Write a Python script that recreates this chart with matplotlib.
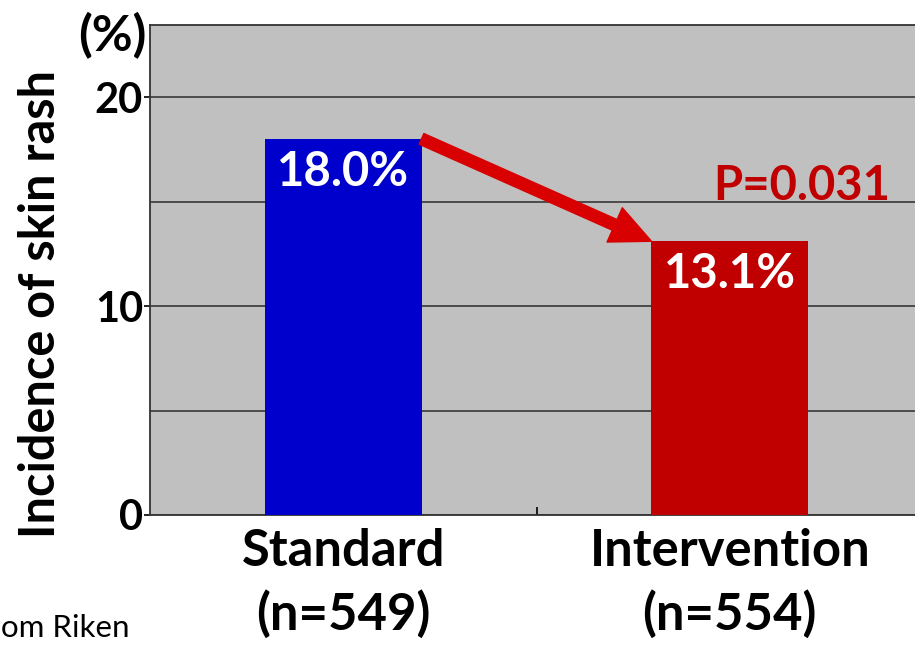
import matplotlib
matplotlib.use("Agg")
import matplotlib.pyplot as plt

# Data
groups = ["Standard", "Intervention"]
sample_sizes = [549, 554]
incidence = [18.0, 13.1]
bar_colors = ["#0000cc", "#c00000"]
p_value_text = "P=0.031"
y_major_ticks = [0, 10, 20]
y_minor_ticks = [5, 15]
source_text = "om Riken"

plt.rcParams["font.family"] = ["Lato", "DejaVu Sans"]

fig = plt.figure(figsize=(9.15, 6.45), dpi=100)
W, H = 915, 645
ax = fig.add_axes([150 / W, 130 / H, 773 / W, 490 / H])
ax.set_facecolor("#c0c0c0")

xpos = list(range(len(groups)))
bar_width = 0.405
bars = ax.bar(xpos, incidence, width=bar_width, color=bar_colors, zorder=3)

ax.set_xlim(-0.5, 1.5)
ax.set_ylim(0, 23.45)

# y axis: labelled ticks every 10, gridlines every 5
ax.set_yticks(y_major_ticks)
ax.set_yticks(y_minor_ticks, minor=True)
ax.grid(axis="y", which="both", color="#383838", lw=1.2, zorder=1)
ax.tick_params(axis="y", which="major", direction="out", length=4, width=1.2,
               pad=1, labelsize=30)
ax.tick_params(axis="y", which="minor", length=0)
for lbl in ax.get_yticklabels():
    lbl.set_fontweight("bold")

# x axis: category labels, one inward tick between the groups
ax.set_xticks(xpos, labels=[f"{g}\n(n={n})" for g, n in zip(groups, sample_sizes)])
ax.set_xticks([0.5], minor=True)
ax.tick_params(axis="x", which="major", length=0, pad=9, labelsize=36.5)
ax.tick_params(axis="x", which="minor", direction="in", length=6, width=1.2)
for lbl in ax.get_xticklabels():
    lbl.set_fontweight("bold")
    lbl.set_linespacing(1.4)

for side in ["left", "bottom", "top"]:
    ax.spines[side].set_color("#333333")
    ax.spines[side].set_linewidth(1.3)
ax.spines["right"].set_visible(False)

# value labels inside the bars
for bar, v in zip(bars, incidence):
    ax.annotate(f"{v:.1f}%", xy=(bar.get_x() + bar.get_width() / 2, v),
                xytext=(0, -8), textcoords="offset points",
                ha="center", va="top", color="white",
                fontsize=34, fontweight="bold", zorder=5)

# arrow from the top of one bar to the top of the other
start = (bars[0].get_x() + bars[0].get_width(), incidence[0])
end = (bars[1].get_x(), incidence[1])
ax.annotate("", xy=end, xytext=start,
            arrowprops=dict(arrowstyle="simple,head_length=1.45,head_width=1.35,tail_width=0.42",
                            mutation_scale=20, color="#d80000",
                            shrinkA=0, shrinkB=0),
            zorder=4)

ax.text(1.415, 15.07, p_value_text, ha="right", va="baseline",
        color="#c00000", fontsize=34, fontweight="bold")

fig.text(147 / W, 1 - 36 / H, "(%)", ha="right", va="center",
         fontsize=36, fontweight="bold")
fig.text(41 / W, 1 - 304 / H, "Incidence of skin rash", rotation=90,
         ha="center", va="center", fontsize=35, fontweight="bold")
fig.text(1 / W, 1 - 637 / H, source_text, ha="left", va="baseline",
         fontsize=22.5)

fig.savefig("out.png", dpi=100)
